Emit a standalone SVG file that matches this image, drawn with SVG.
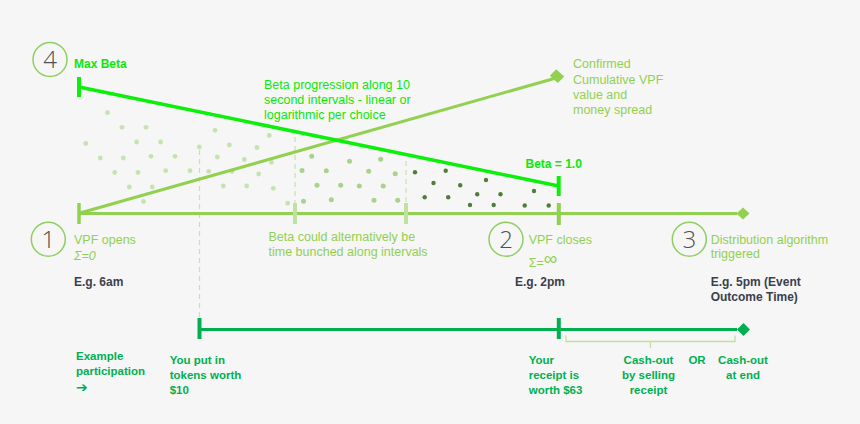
<svg xmlns="http://www.w3.org/2000/svg" width="860" height="424" viewBox="0 0 860 424">
<style>
text{font-family:"Liberation Sans",Arial,sans-serif}
.lg{fill:#92d050;font-size:12.5px}
.bg{fill:#0ae80a;font-size:12.5px}
.bgb{fill:#0ae80a;font-size:12px;font-weight:bold}
.dk{fill:#3a404c;font-size:12px;font-weight:bold}
.pg{fill:#00b050;font-size:11.5px;font-weight:bold}
.num{font-family:"Open Sans","DejaVu Sans",sans-serif;font-weight:300;font-size:24px;fill:#505050;text-anchor:middle}
.circ{fill:none;stroke:#8fcf62;stroke-width:1.5}
.d1{fill:#c5e3b0}
.d2{fill:#a9d38c}
.d3{fill:#4f7d3a}
.dash{stroke:#c4e3ae;stroke-width:1.2;stroke-dasharray:5 4;fill:none}
.main{stroke:#92d050;stroke-width:3;fill:none}
.beta{stroke:#0af00a;stroke-width:3.5;fill:none}
.part{stroke:#00b050;stroke-width:3;fill:none}
</style>
<rect width="860" height="424" fill="#f6f6f6"/>

<g id="dots">
<g class="d1">
<circle cx="107.5" cy="112.7" r="2.4"/><circle cx="122" cy="127.3" r="2.4"/><circle cx="146" cy="127.3" r="2.4"/>
<circle cx="85.7" cy="143.5" r="2.4"/><circle cx="136.7" cy="142" r="2.4"/><circle cx="160.7" cy="142" r="2.4"/>
<circle cx="215" cy="130.3" r="2.4"/><circle cx="199.3" cy="147" r="2.4"/><circle cx="229.3" cy="145" r="2.4"/>
<circle cx="269.3" cy="135.5" r="2.4"/><circle cx="257" cy="147.5" r="2.4"/>
<circle cx="100.3" cy="158" r="2.4"/><circle cx="123.3" cy="158" r="2.4"/><circle cx="151" cy="156.3" r="2.4"/>
<circle cx="175" cy="156.3" r="2.4"/><circle cx="217.3" cy="157" r="2.4"/><circle cx="244.3" cy="159.5" r="2.4"/>
<circle cx="271.5" cy="162.3" r="2.4"/>
<circle cx="114.7" cy="172.5" r="2.4"/><circle cx="138" cy="172.5" r="2.4"/><circle cx="165.7" cy="170.7" r="2.4"/>
<circle cx="190" cy="170.7" r="2.4"/><circle cx="208.7" cy="171.3" r="2.4"/><circle cx="232" cy="171.5" r="2.4"/>
<circle cx="258.7" cy="174" r="2.4"/>
<circle cx="129.3" cy="187" r="2.4"/><circle cx="152.3" cy="187" r="2.4"/><circle cx="223.3" cy="186" r="2.4"/>
<circle cx="246.7" cy="186" r="2.4"/><circle cx="273.3" cy="188.3" r="2.4"/>
<circle cx="143.5" cy="201.5" r="2.4"/><circle cx="287.7" cy="203.2" r="2.4"/>
</g>
<g class="d2">
<circle cx="311.7" cy="156.2" r="2.5"/><circle cx="349.5" cy="161.2" r="2.5"/><circle cx="380.7" cy="159.3" r="2.5"/>
<circle cx="302" cy="170.5" r="2.5"/><circle cx="326.3" cy="170.7" r="2.5"/><circle cx="368.7" cy="171.3" r="2.5"/>
<circle cx="395.2" cy="173.8" r="2.5"/>
<circle cx="317" cy="185.3" r="2.5"/><circle cx="340.7" cy="185.3" r="2.5"/><circle cx="359.3" cy="186" r="2.5"/>
<circle cx="383.2" cy="186" r="2.5"/>
<circle cx="303.5" cy="201.2" r="2.5"/><circle cx="331.3" cy="199.7" r="2.5"/><circle cx="374" cy="200.2" r="2.5"/>
<circle cx="397.7" cy="200.2" r="2.5"/>
</g>
<g class="d3">
<circle cx="415" cy="172.3" r="2.2"/><circle cx="445.7" cy="170.7" r="2.2"/><circle cx="433.5" cy="183" r="2.2"/>
<circle cx="460.2" cy="185.2" r="2.2"/><circle cx="486" cy="180" r="2.2"/>
<circle cx="424.7" cy="197.3" r="2.2"/><circle cx="448.2" cy="197.3" r="2.2"/><circle cx="477.2" cy="194.3" r="2.2"/>
<circle cx="500.5" cy="194.3" r="2.2"/><circle cx="534" cy="191" r="2.2"/>
<circle cx="470" cy="205" r="2.2"/><circle cx="493.7" cy="205" r="2.2"/><circle cx="524.7" cy="205.5" r="2.2"/>
<circle cx="548.7" cy="205.5" r="2.2"/>
</g>
</g>

<g id="connectors">
<line class="dash" x1="199.5" y1="150" x2="199.5" y2="318"/>
<line class="dash" x1="295" y1="137" x2="295" y2="203"/>
<line class="dash" x1="406" y1="161" x2="406" y2="203"/>
<line class="main" x1="79" y1="213.5" x2="737" y2="213.5"/>
<line stroke="#92d050" stroke-width="3.5" x1="79" y1="203" x2="79" y2="224"/>
<line stroke="#bfe2a0" stroke-width="4" x1="295" y1="203" x2="295" y2="224"/>
<line stroke="#bfe2a0" stroke-width="4" x1="406" y1="203" x2="406" y2="224"/>
<line stroke="#92d050" stroke-width="4" x1="558.8" y1="203" x2="558.8" y2="225"/>
<polygon fill="#92d050" points="736.5,213.5 743,207.5 749.5,213.5 743,219.5"/>
<line class="main" x1="80" y1="213" x2="556" y2="78"/>
<polygon fill="#92d050" points="549.8,75.8 556.2,69.3 564.2,76.5 557.8,83"/>
<line class="beta" x1="79" y1="87" x2="558.7" y2="186"/>
<line stroke="#0af00a" stroke-width="4" x1="79" y1="77" x2="79" y2="97"/>
<line stroke="#0af00a" stroke-width="4" x1="558.7" y1="176" x2="558.7" y2="196"/>
<line class="part" x1="200" y1="329.5" x2="737" y2="329.5"/>
<line stroke="#00b050" stroke-width="4" x1="199.5" y1="318" x2="199.5" y2="339"/>
<line stroke="#00b050" stroke-width="4" x1="558.8" y1="318" x2="558.8" y2="339"/>
<polygon fill="#00b050" points="737,329.5 743.5,323 750,329.5 743.5,336"/>
<path d="M566,335.5 V341.5 H735 V335.5 M650.5,341.5 V348" fill="none" stroke="#bfe2a0" stroke-width="1.3"/>
</g>

<g id="node-4">
<circle class="circ" cx="50" cy="59.5" r="17"/>
<text class="num" x="50" y="68">4</text>
<text class="bgb" x="74" y="68">Max Beta</text>
</g>

<g id="beta-progression">
<text class="bg" x="264" y="89">Beta progression along 10</text>
<text class="bg" x="264" y="104">second intervals - linear or</text>
<text class="bg" x="264" y="118.5">logarithmic per choice</text>
</g>

<g id="confirmed">
<text class="lg" x="573" y="68">Confirmed</text>
<text class="lg" x="573" y="83.5">Cumulative VPF</text>
<text class="lg" x="573" y="98.5">value and</text>
<text class="lg" x="573" y="114">money spread</text>
</g>

<g id="beta-one">
<text class="bgb" x="525.5" y="167.5">Beta = 1.0</text>
</g>

<g id="node-1">
<circle class="circ" cx="48.3" cy="239.3" r="17"/>
<text class="num" x="48.3" y="248">1</text>
<text class="lg" x="74" y="243.5">VPF opens</text>
<text class="lg" x="74" y="260" font-style="italic">Σ=0</text>
<text class="dk" x="74" y="286">E.g. 6am</text>
</g>

<g id="bunched">
<text class="lg" x="268.5" y="240.5">Beta could alternatively be</text>
<text class="lg" x="268.5" y="255.5">time bunched along intervals</text>
</g>

<g id="node-2">
<circle class="circ" cx="506" cy="239.3" r="17"/>
<text class="num" x="506" y="248">2</text>
<text class="lg" x="528.7" y="243.5">VPF closes</text>
<text class="lg" x="528.7" y="267">Σ=<tspan font-size="19" dy="-2">∞</tspan></text>
<text class="dk" x="515" y="286">E.g. 2pm</text>
</g>

<g id="node-3">
<circle class="circ" cx="689.3" cy="239.3" r="17"/>
<text class="num" x="689.3" y="248">3</text>
<text class="lg" x="710.7" y="243.5">Distribution algorithm</text>
<text class="lg" x="710.7" y="258">triggered</text>
<text class="dk" x="710.7" y="286">E.g. 5pm (Event</text>
<text class="dk" x="710.7" y="300.5">Outcome Time)</text>
</g>

<g id="example">
<text class="pg" x="76" y="360">Example</text>
<text class="pg" x="76" y="375">participation</text>
<text class="pg" x="76" y="391.5" style="font-family:'DejaVu Sans',sans-serif;font-size:14px">➔</text>
</g>

<g id="put-in">
<text class="pg" x="169.7" y="364">You put in</text>
<text class="pg" x="169.7" y="379">tokens worth</text>
<text class="pg" x="169.7" y="394">$10</text>
</g>

<g id="receipt">
<text class="pg" x="528.7" y="364">Your</text>
<text class="pg" x="528.7" y="379">receipt is</text>
<text class="pg" x="528.7" y="393.5">worth $63</text>
</g>

<g id="cashout-sell" text-anchor="middle">
<text class="pg" x="648.5" y="364">Cash-out</text>
<text class="pg" x="648.5" y="379">by selling</text>
<text class="pg" x="648.5" y="393.5">receipt</text>
</g>

<g id="or">
<text class="pg" x="697" y="363.5" text-anchor="middle">OR</text>
</g>

<g id="cashout-end" text-anchor="middle">
<text class="pg" x="743" y="364">Cash-out</text>
<text class="pg" x="743" y="378.5">at end</text>
</g>
</svg>
